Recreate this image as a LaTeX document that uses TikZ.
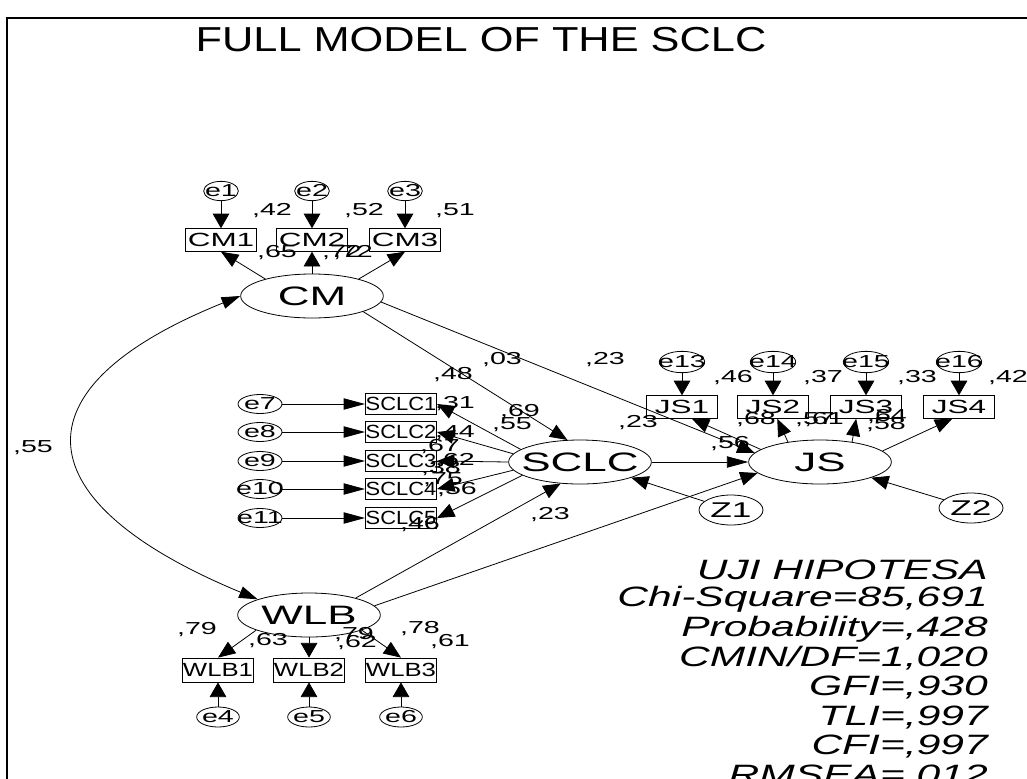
\documentclass[tikz,border=0pt]{standalone}
\usepackage{fontspec}
\setmainfont{Liberation Sans}
\newfontfamily\amosfont[FakeStretch=1.65]{Liberation Sans}
\newfontfamily\amossclc[FakeStretch=1.15]{Liberation Sans}
\newfontfamily\amoswlb[FakeStretch=1.35]{Liberation Sans}
\newfontfamily\amosstat[FakeStretch=1.52]{Liberation Sans}
\newfontfamily\amostitle[FakeStretch=1.25]{Liberation Sans}
\usetikzlibrary{arrows.meta, shapes.geometric}
\newcommand{\numfont}{\amosfont\fontsize{13pt}{15pt}\selectfont}
\newcommand{\boxfont}{\amosfont\fontsize{14.3pt}{16pt}\selectfont}
\newcommand{\sclcfont}{\amossclc\fontsize{14.3pt}{16pt}\selectfont}
\newcommand{\wlbfont}{\amoswlb\fontsize{14.3pt}{16pt}\selectfont}
\newcommand{\latfont}{\amosfont\fontsize{20pt}{22pt}\selectfont}
\newcommand{\statfont}{\amosstat\fontsize{21pt}{24pt}\selectfont\itshape}
\newcommand{\elab}[1]{\makebox[0pt]{#1}}
\tikzset{
    obs/.style={draw, line width=0.6pt, rectangle, minimum width=53.5pt, minimum height=17pt, inner sep=0pt, font=\boxfont},
    lat/.style={draw, line width=0.6pt, ellipse, minimum width=107pt, minimum height=33pt, inner sep=0pt, font=\latfont},
    err/.style={draw, line width=0.6pt, ellipse, inner sep=0pt, font=\numfont},
    coef/.style={inner sep=0pt, font=\numfont},
    fitstat/.style={anchor=east, inner sep=0pt, font=\statfont},
    effect/.style={-{Triangle[length=13pt,width=10.5pt]}, line width=0.6pt},
    effecth/.style={-{Triangle[length=16pt,width=8.5pt]}, line width=0.6pt},
    effectv/.style={-{Triangle[length=11pt,width=12.5pt]}, line width=0.6pt},
}
\begin{document}
\begin{tikzpicture}[x=0.75pt, y=-0.75pt]
    \useasboundingbox (0,0) rectangle (1027,778);
    \clip (0,0) rectangle (1027,778);

    % ---------------- frame and title ----------------
    \draw[line width=1.5pt] (7,800) -- (7,18) -- (1040,18);
    \node[font=\amostitle\fontsize{26pt}{30pt}\selectfont] (title) at (481,40) {FULL MODEL OF THE SCLC};

    % ---------------- latent variables ----------------
    \node[lat] (cm) at (312,296) {\elab{CM}};
    \node[lat] (sclc) at (580,462) {\elab{SCLC}};
    \node[lat] (js) at (820,462) {\elab{JS}};
    \node[lat] (wlb) at (309,615) {\elab{WLB}};
    \node[err, minimum width=48pt, minimum height=22.5pt, font=\amosfont\fontsize{16pt}{18pt}\selectfont] (z1) at (731,510) {\elab{Z1}};
    \node[err, minimum width=48pt, minimum height=22.5pt, font=\amosfont\fontsize{16pt}{18pt}\selectfont] (z2) at (971,508) {\elab{Z2}};

    % ---------------- CM indicators ----------------
    \foreach \k/\x in {1/221,2/312,3/405}{
        \node[err, minimum width=26pt, minimum height=14.5pt] (e\k) at (\x,191) {\elab{e\k}};
        \node[obs] (cm\k) at (\x,240) {CM\k};
        \draw[effectv] (e\k) -- (cm\k);
    }
    \draw[effect] (cm.160) -- (cm1.south);
    \draw[effectv] (cm) -- (cm2);
    \draw[effect] (cm.20) -- (cm3.south);
    \node[coef] at (272,211) {,42};
    \node[coef] at (364,211) {,52};
    \node[coef] at (455,211) {,51};
    \node[coef] at (277,253) {,65};
    \node[coef] at (342,253) {,72};
    \node[coef] at (353,253) {,72};

    % ---------------- SCLC indicators ----------------
    \foreach \k/\y/\a in {1/404/168,2/432/173,4/489/187,5/518/193,3/461/180}{
        \pgfmathtruncatemacro{\ename}{\k+6}
        \node[err, minimum width=33pt, minimum height=14.25pt] (e\ename) at (260,\y) {\elab{e\ename}};
        \node[obs, minimum height=16pt, font=\sclcfont] (sclc\k) at (401,\y) {SCLC\k};
        \draw[effecth] (e\ename) -- (sclc\k);
        \draw[effect] (sclc.\a) -- (sclc\k.east);
    }
    \node[coef] at (455,404) {,31};
    \node[coef] at (455,433) {,44};
    \node[coef] at (440,447) {,67};
    \node[coef] at (455,461) {,62};
    \node[coef] at (441,469) {,38};
    \node[coef] at (443,480) {,75};
    \node[coef] at (457,490) {,56};
    \node[coef] at (420,525) {,46};

    % ---------------- JS indicators ----------------
    \foreach \k/\x/\a/\b in {1/682/168/-50,2/773/148/-70,3/866/32/-130,4/959/10/-120}{
        \pgfmathtruncatemacro{\ename}{\k+12}
        \node[err, minimum width=34pt, minimum height=16pt] (e\ename) at (\x,362) {\elab{e\ename}};
        \node[obs] (js\k) at (\x,407) {JS\k};
        \draw[effectv] (e\ename) -- (js\k);
        \draw[effect] (js.\a) -- (js\k.\b);
    }
    \node[coef] at (733,378) {,46};
    \node[coef] at (823,378) {,37};
    \node[coef] at (917,378) {,33};
    \node[coef] at (1008,378) {,42};
    \node[coef] at (756,420) {,68};
    \node[coef] at (815,420) {,57};
    \node[coef] at (824,420) {,61};
    \node[coef] at (887,417) {,64};
    \node[coef] at (886,425) {,58};

    % ---------------- WLB indicators ----------------
    \foreach \k/\x in {1/218,2/309,3/401}{
        \pgfmathtruncatemacro{\ename}{\k+3}
        \node[obs, minimum height=18pt, font=\wlbfont] (wlb\k) at (\x,670) {WLB\k};
        \node[err, minimum width=32pt, minimum height=15pt] (e\ename) at (\x,717) {\elab{e\ename}};
        \draw[effectv] (e\ename) -- (wlb\k);
    }
    \draw[effect] (wlb.196) -- (wlb1.north);
    \draw[effectv] (wlb) -- (wlb2);
    \draw[effect] (wlb.344) -- (wlb3.north);
    \node[coef] at (197,630) {,79};
    \node[coef] at (268,641) {,63};
    \node[coef] at (354,635) {,79};
    \node[coef] at (357,643) {,62};
    \node[coef] at (420,629) {,78};
    \node[coef] at (450,642) {,61};

    % ---------------- structural paths ----------------
    \draw[effect] (cm.343) -- (sclc.120);
    \draw[effect] (cm.355) -- (js.172);
    \draw[effecth] (sclc) -- (js);
    \draw[effect] (wlb.20) -- (sclc.228);
    \draw[effect] (wlb.8) -- (js.190);
    \draw[effect] (z1) -- (sclc.343);
    \draw[effect] (z2) -- (js.343);
    \draw[{Triangle[length=14pt,width=9pt]}-{Triangle[length=14pt,width=9pt]}, line width=0.6pt]
        (cm.west) .. controls (9,389) and (25,503) .. (wlb.163);
    \node[coef] at (33,448) {,55};
    \node[coef] at (453,375) {,48};
    \node[coef] at (502,360) {,03};
    \node[coef] at (605,360) {,23};
    \node[coef] at (520,412) {,69};
    \node[coef] at (512,425) {,55};
    \node[coef] at (638,423) {,23};
    \node[coef] at (730,444) {,56};
    \node[coef] at (550,515) {,23};

    % ---------------- fit statistics ----------------
    \foreach \stat [count=\k from 0] in {UJI HIPOTESA,{Chi-Square=85,691},{Probability=,428},{CMIN/DF=1,020},{GFI=,930},{TLI=,997},{CFI=,997},{RMSEA=,012}}
        \node[fitstat] (fit\k) at (988,570+29.5*\k) {\stat};

\end{tikzpicture}
\end{document}
